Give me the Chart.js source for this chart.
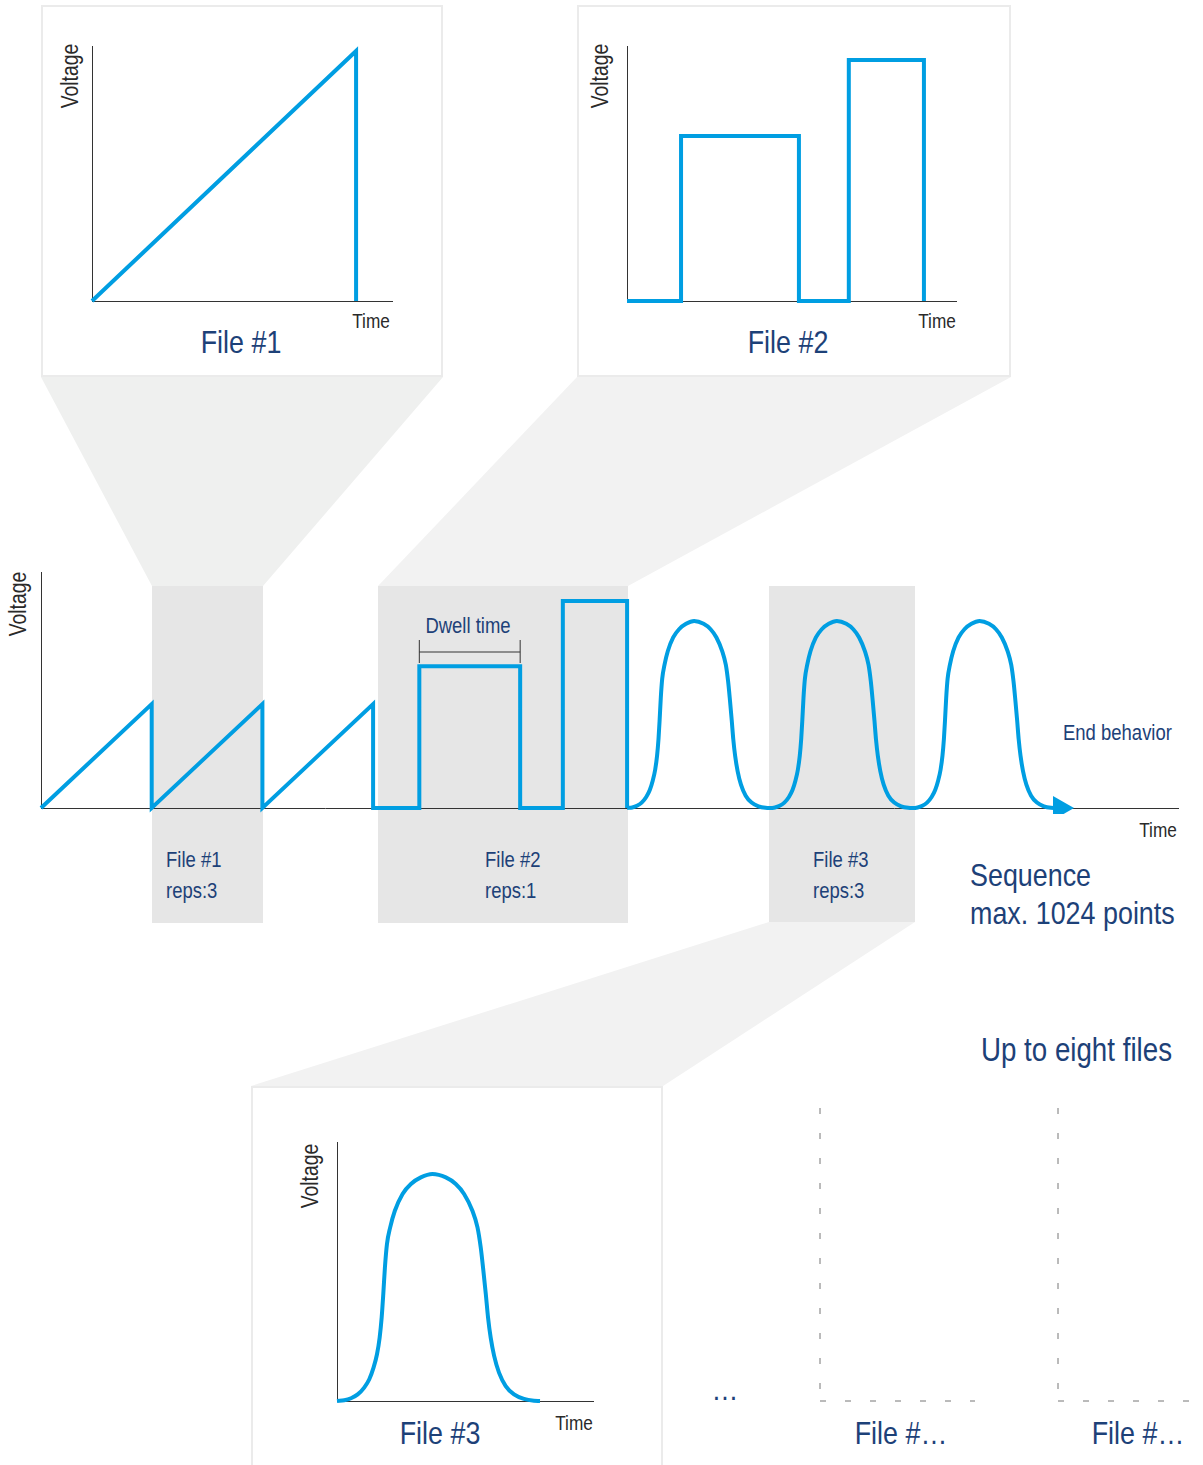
<!DOCTYPE html>
<html>
<head>
<meta charset="utf-8">
<script src="https://cdn.jsdelivr.net/npm/chart.js@4.4.1/dist/chart.umd.min.js"></script>
<style>
html, body { margin: 0; padding: 0; background: #fff; }
#page { position: relative; width: 1203px; height: 1465px; overflow: hidden;
  font-family: "Liberation Sans", Arial, sans-serif; }
#page svg { position: absolute; left: 0; top: 0; }
#page canvas { position: absolute; }
.t { position: absolute; line-height: 1; white-space: nowrap; transform: translate(-50%, -50%) scaleX(0.84); }
.t.l { transform-origin: 0 50%; transform: translate(0, -50%) scaleX(0.84); }
.t.r { transform-origin: 100% 50%; transform: translate(-100%, -50%) scaleX(0.84); }
.t.rot { transform: translate(-50%, -50%) rotate(-90deg) scaleX(0.84); }
.blue { color: #1d4178; }
.grey { color: #2a2a2a; }
.big { font-size: 32px; }
.mid { font-size: 22px; }
.volt { font-size: 23px; }
.time { font-size: 20.5px; }
</style>
</head>
<body>
<div id="page">
  <svg width="1203" height="1465">
    <polygon points="41,377 443,377 263,586 152,586" fill="#eff0ef"/>
    <polygon points="577,377 1011,377 628,586 378,586" fill="#f2f2f2"/>
    <polygon points="769,922 915,922 663,1086 251,1086" fill="#f2f2f2"/>
    <rect x="152" y="586" width="111" height="337" fill="#e6e6e6"/>
    <rect x="378" y="586" width="250" height="337" fill="#e6e6e6"/>
    <rect x="769" y="586" width="146" height="336" fill="#e6e6e6"/>
    <rect x="42" y="6" width="400" height="370" fill="#fff" stroke="#ebebeb" stroke-width="2"/>
    <rect x="578" y="6" width="432" height="370" fill="#fff" stroke="#ebebeb" stroke-width="2"/>
    <rect x="252" y="1087" width="410" height="390" fill="#fff" stroke="#ebebeb" stroke-width="2"/>
  </svg>

  <div class="t rot grey volt" style="left:70px; top:76px">Voltage</div>
  <div class="t grey time" style="left:371px; top:321px">Time</div>
  <div class="t blue big" style="left:241px; top:342px">File #1</div>

  <div class="t rot grey volt" style="left:600px; top:76px">Voltage</div>
  <div class="t grey time" style="left:937px; top:321px">Time</div>
  <div class="t blue big" style="left:788px; top:342px">File #2</div>

  <div class="t rot grey volt" style="left:18px; top:604px">Voltage</div>
  <div class="t grey time" style="left:1158px; top:830px">Time</div>
  <div class="t blue mid" style="left:468px; top:626px">Dwell time</div>
  <div class="t l blue mid" style="left:1063px; top:733px">End behavior</div>
  <div class="t l blue mid" style="left:166px; top:860px">File #1</div>
  <div class="t l blue mid" style="left:166px; top:891px">reps:3</div>
  <div class="t l blue mid" style="left:485px; top:860px">File #2</div>
  <div class="t l blue mid" style="left:485px; top:891px">reps:1</div>
  <div class="t l blue mid" style="left:813px; top:860px">File #3</div>
  <div class="t l blue mid" style="left:813px; top:891px">reps:3</div>
  <div class="t l blue big" style="left:970px; top:875px">Sequence</div>
  <div class="t l blue big" style="left:970px; top:913px">max. 1024 points</div>
  <div class="t r blue big" style="left:1172px; top:1049px; font-size:33px">Up to eight files</div>

  <div class="t rot grey volt" style="left:310px; top:1176px">Voltage</div>
  <div class="t grey time" style="left:574px; top:1423px">Time</div>
  <div class="t blue big" style="left:440px; top:1433px">File #3</div>
  <div class="t blue big" style="left:725px; top:1389px">…</div>
  <div class="t blue big" style="left:901px; top:1433px">File #…</div>
  <div class="t blue big" style="left:1138px; top:1433px">File #…</div>
</div>

<script>
// file shapes, time and voltage normalised to the file's own length and peak
const file1T = [0, 1, 1];
const file1V = [0, 1, 0];

const file2T = [0, 0.182, 0.182, 0.579, 0.579, 0.747, 0.747, 1, 1];
const file2V = [0, 0, 0.685, 0.685, 0, 0, 1, 1, 0];

const file3T = [0, 0.036, 0.069, 0.102, 0.134, 0.159, 0.180, 0.197, 0.210, 0.220, 0.228, 0.236, 0.246, 0.262,
  0.285, 0.323, 0.364, 0.413, 0.470, 0.536, 0.585, 0.626, 0.667, 0.692, 0.708, 0.721, 0.733, 0.744, 0.757,
  0.774, 0.798, 0.831, 0.872, 0.921, 0.970, 1.0];
const file3V = [0, 0.003, 0.012, 0.029, 0.059, 0.096, 0.147, 0.206, 0.279, 0.368, 0.471, 0.588, 0.691, 0.765,
  0.838, 0.912, 0.956, 0.985, 1.0, 0.985, 0.956, 0.912, 0.838, 0.765, 0.676, 0.574, 0.471, 0.368, 0.279,
  0.199, 0.125, 0.066, 0.029, 0.009, 0.001, 0];

// sequence: which file, how many reps, length of one rep and its peak (sequence units)
const seqFiles = ['File #1', 'File #2', 'File #3'];
const seqReps = [3, 1, 3];
const seqDuration = [110.7, 254, 142.7];
const seqAmplitude = [104, 207, 187];
const seqTimeMax = 1137;
const seqVoltMax = 236;
const endBehaviorT = [1019];
const dwellMarkV = [145, 156, 168];

const BLUE = '#009ee2';
const AXIS = '#333';
const PAD = 6;
const page = document.getElementById('page');

function addCanvas(left, top, w, h) {
  const c = document.createElement('canvas');
  c.width = w + PAD * 2;
  c.height = h + PAD * 2;
  c.style.left = (left - PAD) + 'px';
  c.style.top = (top - PAD) + 'px';
  page.appendChild(c);
  return c;
}

function axis(max, showBorder) {
  return {
    type: 'linear', min: 0, max: max,
    grid: { display: false, drawTicks: false },
    ticks: { display: false },
    border: { display: showBorder, color: AXIS, width: 1 }
  };
}

function wave(points, smooth) {
  return {
    data: points, showLine: true, borderColor: BLUE, borderWidth: 4,
    pointRadius: 0, fill: false, clip: false, tension: 0,
    cubicInterpolationMode: smooth ? 'monotone' : 'default',
    borderJoinStyle: 'miter', borderCapStyle: 'butt'
  };
}

function toPoints(ts, vs, dur, amp, t0) {
  return ts.map((t, i) => ({ x: t0 + t * dur, y: vs[i] * amp }));
}

function makeChart(left, top, w, h, xMax, yMax, datasets, showBorder) {
  return new Chart(addCanvas(left, top, w, h), {
    type: 'scatter',
    data: { datasets: datasets },
    options: {
      responsive: false, animation: false,
      layout: { padding: PAD, autoPadding: false },
      plugins: { legend: { display: false }, tooltip: { enabled: false } },
      events: [],
      scales: { x: axis(xMax, showBorder !== false), y: axis(yMax, showBorder !== false) }
    }
  });
}

// File #1 panel
makeChart(92, 46, 300, 255, 1.136, 1.02, [wave(toPoints(file1T, file1V, 1, 1, 0), false)]);

// File #2 panel
makeChart(627, 46, 329, 255, 1.108, 1.058, [wave(toPoints(file2T, file2V, 1, 1, 0), false)]);

// File #3 panel
makeChart(337, 1142, 256, 259, 1.261, 1.141, [wave(toPoints(file3T, file3V, 1, 1, 0), true)]);

// sequence
const shapes = [[file1T, file1V], [file2T, file2V], [file3T, file3V]];
const seqLinear = [];
const seqSmooth = [];
let t0 = 0;
let file2Start = 0;
seqFiles.forEach((name, k) => {
  for (let r = 0; r < seqReps[k]; r++) {
    const pts = toPoints(shapes[k][0], shapes[k][1], seqDuration[k], seqAmplitude[k], t0);
    if (k === 1 && r === 0) file2Start = t0;
    if (k < 2) {
      seqLinear.push(...pts);
    } else {
      seqSmooth.push(...(seqSmooth.length ? pts.slice(1) : pts));
    }
    t0 += seqDuration[k];
  }
});

const dwellA = file2Start + file2T[1] * seqDuration[1];
const dwellB = file2Start + file2T[3] * seqDuration[1];
function mark(points, dash, color) {
  return { data: points, showLine: true, borderColor: color || AXIS, borderWidth: 1, borderDash: dash || [],
    pointRadius: 0, clip: false, tension: 0 };
}

makeChart(41, 572, 1137, 236, seqTimeMax, seqVoltMax, [
  mark([{ x: dwellA, y: dwellMarkV[0] }, { x: dwellA, y: dwellMarkV[2] }]),
  mark([{ x: dwellB, y: dwellMarkV[0] }, { x: dwellB, y: dwellMarkV[2] }]),
  mark([{ x: dwellA, y: dwellMarkV[1] }, { x: dwellB, y: dwellMarkV[1] }]),
  wave(seqLinear, false),
  wave(seqSmooth, true),
  {
    data: [{ x: endBehaviorT[0], y: 0 }], showLine: false, clip: false,
    pointStyle: 'triangle', pointRotation: 90, pointRadius: 14,
    pointBackgroundColor: BLUE, pointBorderColor: BLUE, pointBorderWidth: 0
  }
]);

// empty dashed frames for further files
const DASH = [6, 19];
[[820, 155], [1058, 150]].forEach(([left, w]) => {
  makeChart(left, 1108, w, 293, 1, 1, [
    mark([{ x: 0, y: 1 }, { x: 0, y: 0 }], DASH, '#777'),
    mark([{ x: 0, y: 0 }, { x: 1, y: 0 }], DASH, '#777')
  ], false);
});
</script>
</body>
</html>
